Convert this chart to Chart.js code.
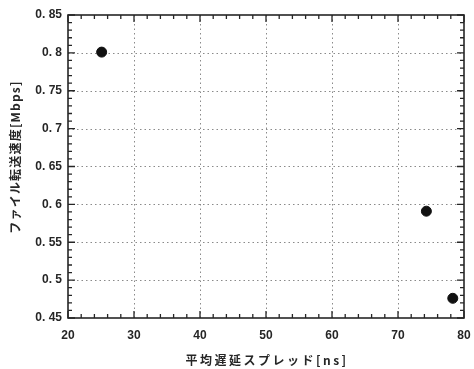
<!DOCTYPE html>
<html>
<head>
<meta charset="utf-8">
<script src="https://cdn.jsdelivr.net/npm/chart.js@4/dist/chart.umd.min.js"></script>
<style>
  html, body { margin: 0; padding: 0; background: #fff; }
  #wrap { width: 474px; height: 369px; }
</style>
</head>
<body>
<div id="wrap"><canvas id="c" width="474" height="369"></canvas></div>
<script>
// Measured points: average delay spread [ns] vs file transfer rate [Mbps]
const delaySpread = [25.1, 74.3, 78.3];
const transferRate = [0.801, 0.591, 0.476];

const xTicks = [20, 30, 40, 50, 60, 70, 80];
const yTicks = [0.45, 0.5, 0.55, 0.6, 0.65, 0.7, 0.75, 0.8, 0.85];

const xTitle = '平均遅延スプレッド[ns]';
const yTitle = 'ファイル転送速度[Mbps]';

const FONT = '"Liberation Sans", "Noto Sans CJK JP", sans-serif';
const JFONT = '"Noto Sans CJK JP", sans-serif';
const INK = '#262626';

// Frame, dotted grid and inward major/minor ticks on all four sides
const framePlugin = {
  id: 'frame',
  beforeDatasetsDraw(chart) {
    const { ctx, chartArea: a, scales: { x, y } } = chart;
    ctx.save();
    ctx.strokeStyle = '#8a8a8a';
    ctx.lineWidth = 1;
    ctx.setLineDash([1.5, 3]);
    xTicks.slice(1, -1).forEach(v => {
      const px = Math.round(x.getPixelForValue(v)) + 0.5;
      ctx.beginPath(); ctx.moveTo(px, a.top); ctx.lineTo(px, a.bottom); ctx.stroke();
    });
    yTicks.slice(1, -1).forEach(v => {
      const py = Math.round(y.getPixelForValue(v)) + 0.5;
      ctx.beginPath(); ctx.moveTo(a.left, py); ctx.lineTo(a.right, py); ctx.stroke();
    });
    ctx.setLineDash([]);
    ctx.strokeStyle = INK;
    ctx.lineWidth = 1.3;
    for (let v = 20; v <= 80.001; v += 2) {
      const px = x.getPixelForValue(v);
      const len = (Math.abs(v % 10) < 1e-6) ? 7 : 4;
      ctx.beginPath();
      ctx.moveTo(px, a.bottom); ctx.lineTo(px, a.bottom - len);
      ctx.moveTo(px, a.top); ctx.lineTo(px, a.top + len);
      ctx.stroke();
    }
    for (let i = 45; i <= 85; i++) {
      const py = y.getPixelForValue(i / 100);
      const len = (i % 5 === 0) ? 7 : 4;
      ctx.beginPath();
      ctx.moveTo(a.left, py); ctx.lineTo(a.left + len, py);
      ctx.moveTo(a.right, py); ctx.lineTo(a.right - len, py);
      ctx.stroke();
    }
    ctx.lineWidth = 1.6;
    ctx.strokeRect(a.left, a.top, a.right - a.left, a.bottom - a.top);
    ctx.restore();
  },
  // axis titles, letter-spaced
  afterDraw(chart) {
    const { ctx, chartArea: a } = chart;
    ctx.save();
    ctx.fillStyle = INK;
    ctx.font = 'bold 12px ' + JFONT;
    ctx.textAlign = 'center';
    ctx.textBaseline = 'middle';
    ctx.letterSpacing = '2.5px';
    ctx.fillText(xTitle, (a.left + a.right) / 2 + 1, 360);
    ctx.translate(15, 157);
    ctx.rotate(-Math.PI / 2);
    ctx.letterSpacing = '1.2px';
    ctx.fillText(yTitle, 0, 0);
    ctx.restore();
  }
};

new Chart(document.getElementById('c'), {
  type: 'scatter',
  data: {
    datasets: [{
      data: delaySpread.map((v, i) => ({ x: v, y: transferRate[i] })),
      backgroundColor: '#111',
      borderColor: '#111',
      pointRadius: 5,
      pointHoverRadius: 5
    }]
  },
  options: {
    responsive: false,
    animation: false,
    layout: { padding: { top: 15, right: 10, left: 0, bottom: 0 } },
    plugins: { legend: { display: false }, tooltip: { enabled: false } },
    scales: {
      x: {
        type: 'linear', min: 20, max: 80,
        afterBuildTicks(s) { s.ticks = xTicks.map(v => ({ value: v })); },
        afterFit(s) { s.height = 51; },
        afterUpdate(s) { s.paddingRight = 0; s.paddingLeft = 0; },
        grid: { display: false, drawTicks: false },
        border: { display: false },
        ticks: {
          padding: 10, color: INK,
          font: { family: FONT, size: 12, weight: 'bold' }
        }
      },
      y: {
        type: 'linear', min: 0.45, max: 0.85,
        afterBuildTicks(s) { s.ticks = yTicks.map(v => ({ value: v })); },
        afterFit(s) { s.width = 68; },
        grid: { display: false, drawTicks: false },
        border: { display: false },
        ticks: {
          padding: 6, color: INK,
          font: { family: FONT, size: 12, weight: 'bold' },
          callback: v => {
            const s = String(Math.round(v * 100) / 100);
            return s.replace('.', '. ');
          }
        }
      }
    }
  },
  plugins: [framePlugin]
});
</script>
</body>
</html>
